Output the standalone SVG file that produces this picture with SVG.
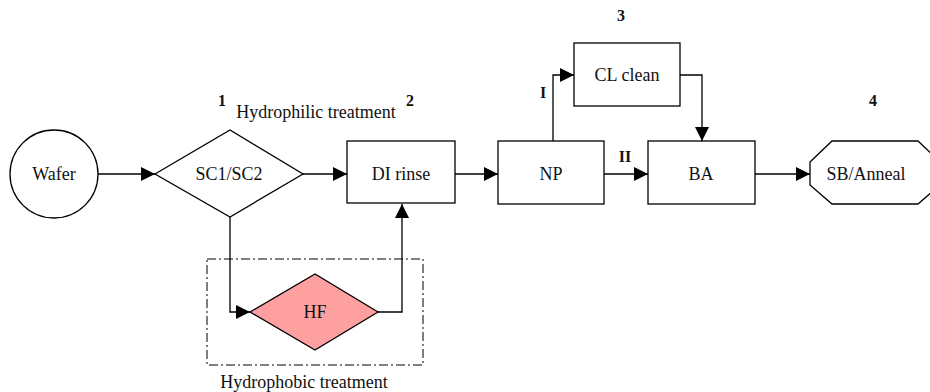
<svg xmlns="http://www.w3.org/2000/svg" width="930" height="392" viewBox="0 0 930 392">
<style>
.s{fill:#fff;stroke:#000;stroke-width:1.3}
.t{font-family:"Liberation Serif","Times New Roman",serif;font-size:18px;fill:#111;text-anchor:middle}
.n{font-family:"Liberation Serif","Times New Roman",serif;font-size:16px;font-weight:bold;fill:#111;text-anchor:middle}
.c{fill:none;stroke:#000;stroke-width:1.3}
</style>
<defs>
<marker id="a" viewBox="0 0 10 10" refX="10" refY="5" markerWidth="18" markerHeight="14" markerUnits="userSpaceOnUse" orient="auto">
<path d="M0,0L10,5L0,10z" fill="#000"/>
</marker>
</defs>
<g id="hydrophobic-box">
<rect x="207" y="259" width="216" height="106" fill="none" stroke="#000" stroke-width="1" stroke-dasharray="9,3,2,3"/>
<text class="t" x="304" y="388">Hydrophobic treatment</text>
</g>
<g id="labels">
<text class="n" x="222" y="106">1</text>
<text class="n" x="410" y="106">2</text>
<text class="n" x="621" y="21">3</text>
<text class="n" x="873" y="106">4</text>
<text class="t" x="316" y="118">Hydrophilic treatment</text>
<text class="n" x="543" y="98">I</text>
<text class="n" x="625" y="162">II</text>
</g>
<g id="connectors">
<path class="c" d="M98,174H155" marker-end="url(#a)"/>
<path class="c" d="M303,174H347" marker-end="url(#a)"/>
<path class="c" d="M455,174H498" marker-end="url(#a)"/>
<path class="c" d="M604,174H648" marker-end="url(#a)"/>
<path class="c" d="M755,174H810" marker-end="url(#a)"/>
<path class="c" d="M553,141V75H574" marker-end="url(#a)"/>
<path class="c" d="M680,75H702V141" marker-end="url(#a)"/>
<path class="c" d="M230,217V312H250" marker-end="url(#a)"/>
<path class="c" d="M378,312H402V204" marker-end="url(#a)"/>
</g>
<g id="wafer">
<circle class="s" cx="54" cy="174" r="44"/>
<text class="t" x="54" y="180">Wafer</text>
</g>
<g id="sc1sc2">
<polygon class="s" points="155,174 230,130 303,174 230,217"/>
<text class="t" x="229" y="180">SC1/SC2</text>
</g>
<g id="hf">
<polygon points="250,312 315,274 378,312 315,350" fill="#ffa0a0" stroke="#000" stroke-width="1.3"/>
<text class="t" x="315" y="318">HF</text>
</g>
<g id="di-rinse">
<rect class="s" x="347" y="141" width="108" height="62"/>
<text class="t" x="401" y="180">DI rinse</text>
</g>
<g id="np">
<rect class="s" x="498" y="141" width="106" height="63"/>
<text class="t" x="551" y="180">NP</text>
</g>
<g id="cl-clean">
<rect class="s" x="574" y="43" width="106" height="63"/>
<text class="t" x="627" y="81">CL clean</text>
</g>
<g id="ba">
<rect class="s" x="648" y="141" width="107" height="63"/>
<text class="t" x="701" y="180">BA</text>
</g>
<g id="sb-anneal">
<polygon class="s" points="810,162 832,141 918,141 940,162 940,185 918,204 832,204 810,185"/>
<text class="t" x="866" y="180">SB/Anneal</text>
</g>
</svg>
